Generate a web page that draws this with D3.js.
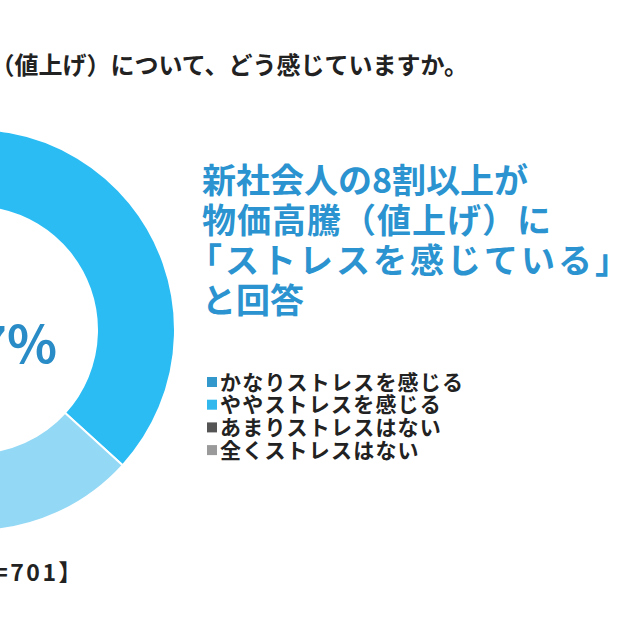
<!DOCTYPE html>
<html>
<head>
<meta charset="utf-8">
<script src="https://cdn.jsdelivr.net/npm/d3@7"></script>
<style>
  body { margin: 0; background: #fff; }
  svg { display: block; font-family: "Noto Sans CJK JP", "Noto Sans", sans-serif; }
</style>
</head>
<body>
<svg width="640" height="640"></svg>
<script>
// Data

const categories = ["かなりストレスを感じる", "ややストレスを感じる", "あまりストレスはない", "全くストレスはない"];
const values = [38.4, 45.3, 13.0, 3.3];
const sliceColors = ["#2a9ad6", "#2bbcf4", "#93d8f5", "#c4e9f8"];
const legendColors = ["#3399cc", "#33b8ee", "#555555", "#9a9a9a"];

const questionText = "Q. 物価高騰（値上げ）について、どう感じていますか。";
const headline = ["新社会人の8割以上が", "物価高騰（値上げ）に", "「ストレスを感じている」", "と回答"];
const sampleText = "【n=701】";

// Layout

const svg = d3.select("svg");
const cx = -26, cy = 330;
const outerR = 201, innerR = 123;

// Donut

const pie = d3.pie()
    .sort(null)
    .value(d => d)
    .startAngle(-169 * Math.PI / 180)
    .endAngle(191 * Math.PI / 180);

const arc = d3.arc()
    .innerRadius(innerR)
    .outerRadius(outerR);

const g = svg.append("g").attr("transform", `translate(${cx},${cy})`);

g.selectAll("path")
    .data(pie(values))
    .enter().append("path")
    .attr("d", arc)
    .attr("fill", (d, i) => sliceColors[i])
    .attr("stroke", "#fff")
    .attr("stroke-width", 2);

// stressed total in the middle
const stressed = values[0] + values[1];
svg.append("text")
    .attr("x", 57)
    .attr("y", 363)
    .attr("text-anchor", "end")
    .attr("font-size", 52)
    .attr("font-weight", 700)
    .attr("fill", "#2a8cc6")
    .text(d3.format(".1f")(stressed) + "%");

// Question title (cut at left edge)
svg.append("text")
    .attr("x", 468)
    .attr("y", 74)
    .attr("text-anchor", "end")
    .attr("font-size", 24)
    .attr("font-weight", 700)
    .attr("fill", "#222")
    .text(questionText);

// Headline
const headX = [202, 202, 188, 202];
const headSpacing = [0, 1, 3, 0];
svg.append("g")
    .selectAll("text")
    .data(headline)
    .enter().append("text")
    .attr("x", (d, i) => headX[i])
    .attr("y", (d, i) => 193 + i * 40)
    .attr("font-size", 34)
    .attr("font-weight", 700)
    .attr("letter-spacing", (d, i) => headSpacing[i])
    .attr("fill", "#2a93d0")
    .text(d => d);

// Legend
const legend = svg.append("g")
    .selectAll("g")
    .data(categories)
    .enter().append("g")
    .attr("transform", (d, i) => `translate(207,${382 + i * 22.7})`);

legend.append("rect")
    .attr("x", 0)
    .attr("y", -5)
    .attr("width", 10)
    .attr("height", 10)
    .attr("fill", (d, i) => legendColors[i]);

legend.append("text")
    .attr("x", 13)
    .attr("y", 7.5)
    .attr("font-size", 21)
    .attr("font-weight", 700)
    .attr("letter-spacing", 1.2)
    .attr("fill", "#222")
    .text(d => d);

// Sample size
svg.append("text")
    .attr("x", 84)
    .attr("y", 581)
    .attr("text-anchor", "end")
    .attr("font-size", 23)
    .attr("font-weight", 700)
    .attr("letter-spacing", 2.5)
    .attr("fill", "#222")
    .text(sampleText);
</script>
</body>
</html>
